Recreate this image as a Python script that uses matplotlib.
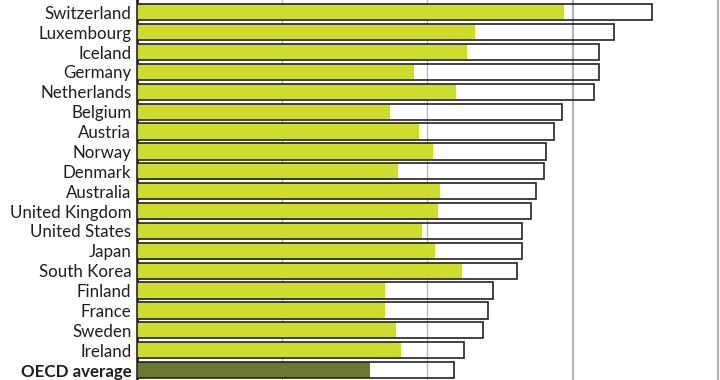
import matplotlib
matplotlib.use("Agg")
import matplotlib.pyplot as plt

countries = ["Switzerland", "Luxembourg", "Iceland", "Germany", "Netherlands",
             "Belgium", "Austria", "Norway", "Denmark", "Australia",
             "United Kingdom", "United States", "Japan", "South Korea",
             "Finland", "France", "Sweden", "Ireland", "OECD average"]
inner = [58.8, 46.6, 45.4, 38.1, 43.9, 34.8, 38.9, 40.8, 36.0, 41.7,
         41.5, 39.2, 41.1, 44.8, 34.1, 34.1, 35.7, 36.3, 32.1]
outer = [70.9, 65.7, 63.6, 63.6, 63.0, 58.5, 57.5, 56.4, 56.1, 55.0,
         54.3, 53.0, 53.0, 52.4, 49.0, 48.3, 47.6, 45.1, 43.7]

GREEN = "#cedd2d"
OLIVE = "#687a30"

fig = plt.figure(figsize=(7.2, 3.8), dpi=100)
ax = fig.add_axes([137 / 720, 0, 1 - 137 / 720, 1])

y = list(range(len(countries)))
colors = [GREEN] * (len(countries) - 1) + [OLIVE]

ax.barh(y, inner, height=0.82, color=colors, zorder=3)
ax.barh(y, outer, height=0.82, facecolor="none", edgecolor="#222222",
        linewidth=1.2, zorder=4)

# gridlines drawn by hand so they sit between the fills and the outlines
for x, lw in [(20, 0.9), (40, 0.9), (60, 1.6), (80, 1.6)]:
    ax.axvline(x, color="#b5b5b5", linewidth=lw, zorder=2)

ax.set_xlim(0, 80.3)
ax.set_ylim(18.5, -0.62)
ax.set_yticks(y)
ax.set_yticklabels(countries, fontsize=12.2, color="#1e1e1e", family="Lato")
ax.get_yticklabels()[-1].set_fontweight("bold")
ax.tick_params(axis="y", length=0, pad=4)
ax.set_xticks([])

for s in ["top", "right", "bottom"]:
    ax.spines[s].set_visible(False)
ax.spines["left"].set_linewidth(1.8)
ax.spines["left"].set_color("#111111")

fig.savefig("out.png", dpi=100)
